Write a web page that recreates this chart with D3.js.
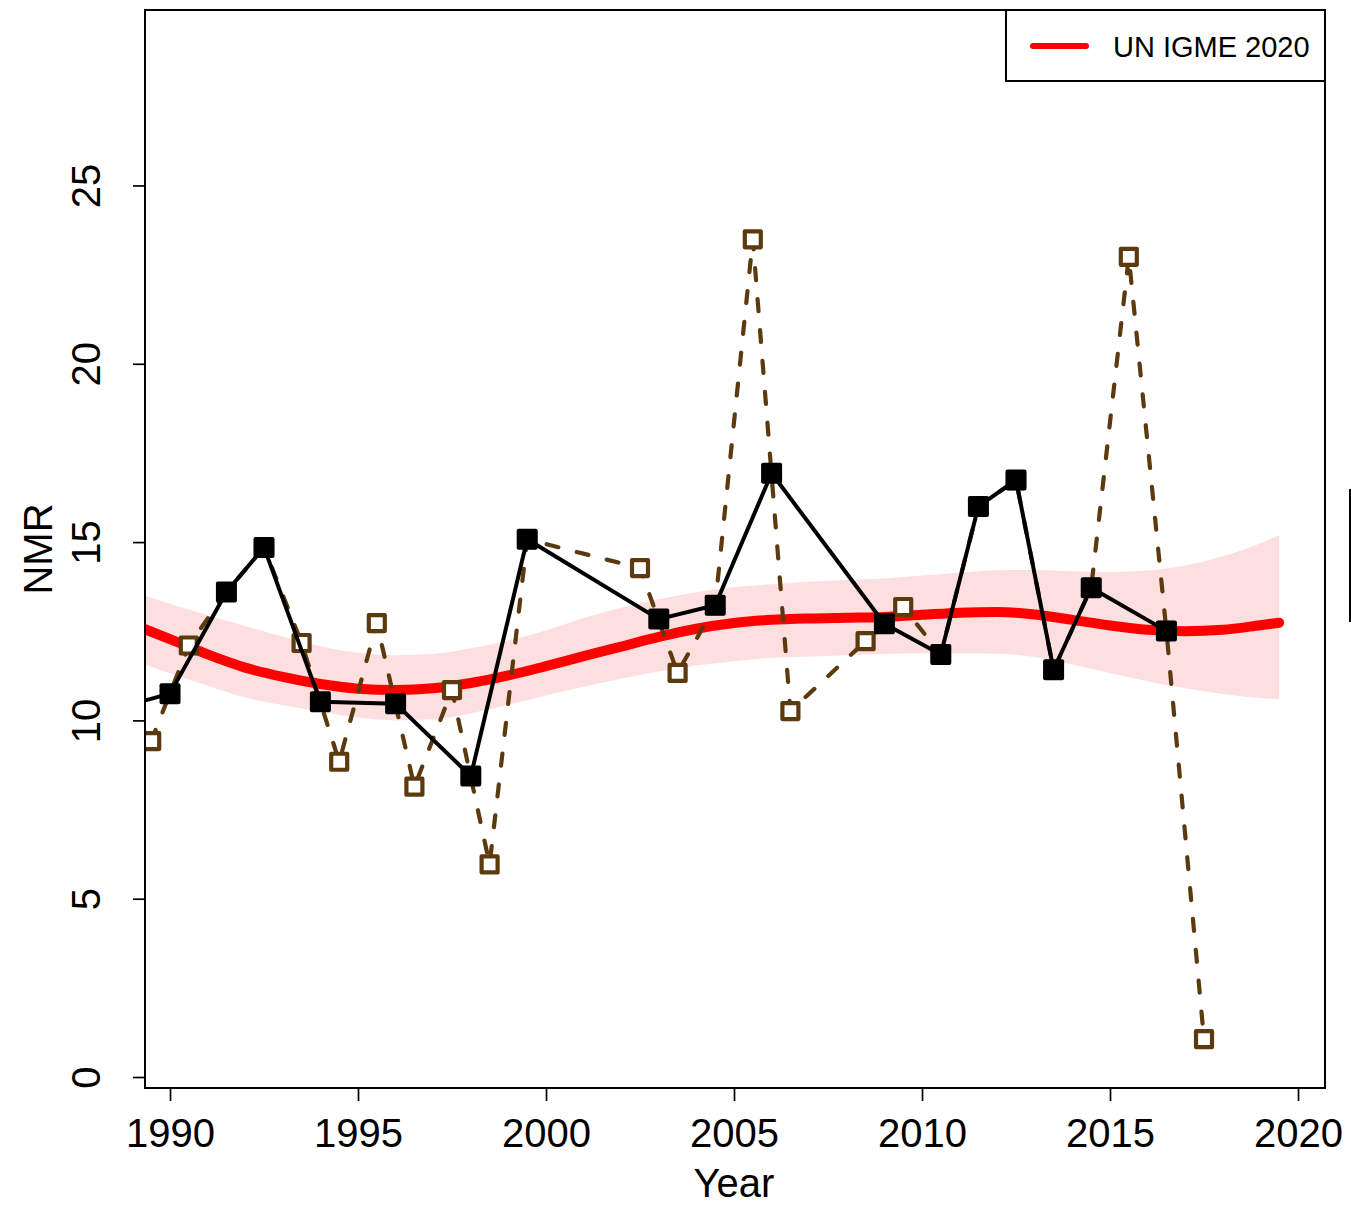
<!DOCTYPE html>
<html>
<head>
<meta charset="utf-8">
<script src="https://cdn.jsdelivr.net/npm/d3@7"></script>
<style>
  html, body { margin: 0; padding: 0; background: #fff; }
  svg { display: block; font-family: "Liberation Sans", Arial, Helvetica, sans-serif; }
</style>
</head>
<body>
<svg id="chart" width="1351" height="1205"></svg>
<script>
// ---- data ----
const trendYears = [1989.3, 1990, 1991, 1992, 1993, 1994, 1995, 1996, 1997, 1998, 1999, 2000, 2001, 2002, 2003, 2004, 2005, 2006, 2007, 2008, 2009, 2010, 2011, 2012, 2013, 2014, 2015, 2016, 2017, 2018, 2019, 2019.5];
const trendMid   = [12.57, 12.28, 11.85, 11.48, 11.22, 11.02, 10.89, 10.85, 10.90, 11.05, 11.26, 11.52, 11.80, 12.07, 12.34, 12.57, 12.73, 12.82, 12.86, 12.88, 12.90, 12.96, 13.02, 13.04, 12.97, 12.82, 12.66, 12.54, 12.50, 12.54, 12.67, 12.74];
const trendUpper = [13.51, 13.27, 12.95, 12.65, 12.35, 12.08, 11.90, 11.83, 11.86, 12.02, 12.24, 12.52, 12.87, 13.16, 13.40, 13.59, 13.73, 13.82, 13.89, 13.94, 13.98, 14.06, 14.14, 14.21, 14.22, 14.18, 14.16, 14.20, 14.34, 14.60, 14.97, 15.19];
const trendLower = [11.59, 11.32, 10.98, 10.64, 10.43, 10.24, 10.08, 10.00, 10.03, 10.20, 10.44, 10.70, 10.94, 11.17, 11.37, 11.54, 11.66, 11.76, 11.79, 11.83, 11.86, 11.88, 11.88, 11.87, 11.78, 11.57, 11.33, 11.10, 10.90, 10.74, 10.63, 10.59];

const openYears  = [1989.5, 1990.5, 1991.5, 1992.5, 1993.5, 1994.5, 1995.5, 1996.5, 1997.5, 1998.5, 1999.5, 2002.5, 2003.5, 2004.5, 2005.5, 2006.5, 2008.5, 2009.5, 2010.5, 2011.5, 2012.5, 2013.5, 2014.5, 2015.5, 2016.5, 2017.5];
const openValues = [9.42, 12.10, 13.60, 14.85, 12.17, 8.84, 12.73, 8.14, 10.85, 5.96, 15.08, 14.27, 11.33, 13.23, 23.49, 10.26, 12.22, 13.18, 11.85, 16.00, 16.74, 11.42, 13.72, 23.00, 12.51, 1.06];

const filledYears  = [1989.0, 1990.0, 1991.5, 1992.5, 1994.0, 1996.0, 1998.0, 1999.5, 2003.0, 2004.5, 2006.0, 2009.0, 2010.5, 2011.5, 2012.5, 2013.5, 2014.5, 2016.5];
const filledValues = [10.46, 10.75, 13.60, 14.85, 10.52, 10.47, 8.44, 15.08, 12.84, 13.23, 16.93, 12.71, 11.85, 16.00, 16.74, 11.42, 13.72, 12.51];

const xTicks = [1990, 1995, 2000, 2005, 2010, 2015, 2020];
const yTicks = [0, 5, 10, 15, 20, 25];
const legendLabels = ["UN IGME 2020"];

// ---- layout ----
const L = 145, R = 1325, T = 10, B = 1088;
const svg = d3.select("#chart");
const x = d3.scaleLinear().domain([1989.335, 2020.718]).range([L, R]);
const y = d3.scaleLinear().domain([-0.308, 29.92]).range([B, T]);

svg.append("defs").append("clipPath").attr("id", "plotclip")
  .append("rect").attr("x", L).attr("y", T).attr("width", R - L).attr("height", B - T);

const plot = svg.append("g").attr("clip-path", "url(#plotclip)");

const trend = trendYears.map((yr, i) => ({ yr, m: trendMid[i], u: trendUpper[i], l: trendLower[i] }));

// band
plot.append("path")
  .datum(trend)
  .attr("d", d3.area().x(d => x(d.yr)).y0(d => y(d.l)).y1(d => y(d.u)).curve(d3.curveMonotoneX))
  .attr("fill", "#fddfe0");

// red estimate
plot.append("path")
  .datum(trend)
  .attr("d", d3.line().x(d => x(d.yr)).y(d => y(d.m)).curve(d3.curveMonotoneX))
  .attr("fill", "none").attr("stroke", "#ff0000").attr("stroke-width", 10)
  .attr("stroke-linecap", "round").attr("stroke-linejoin", "round");

const brown = "#5c3a0e";
const openPts = openYears.map((yr, i) => ({ yr, v: openValues[i] }));
const filledPts = filledYears.map((yr, i) => ({ yr, v: filledValues[i] }));

// dashed series
plot.append("path")
  .datum(openPts)
  .attr("d", d3.line().x(d => x(d.yr)).y(d => y(d.v)))
  .attr("fill", "none").attr("stroke", brown).attr("stroke-width", 4.2)
  .attr("stroke-dasharray", "12,19").attr("stroke-linecap", "round");

plot.selectAll("rect.open").data(openPts).join("rect")
  .attr("class", "open")
  .attr("x", d => x(d.yr) - 8).attr("y", d => y(d.v) - 8)
  .attr("width", 16).attr("height", 16)
  .attr("fill", "#fff").attr("stroke", brown).attr("stroke-width", 4.2)
  .attr("stroke-linejoin", "round");

// solid series
plot.append("path")
  .datum(filledPts)
  .attr("d", d3.line().x(d => x(d.yr)).y(d => y(d.v)))
  .attr("fill", "none").attr("stroke", "#000").attr("stroke-width", 4)
  .attr("stroke-linejoin", "round");

plot.selectAll("rect.filled").data(filledPts).join("rect")
  .attr("class", "filled")
  .attr("x", d => x(d.yr) - 10.5).attr("y", d => y(d.v) - 10.5)
  .attr("width", 21).attr("height", 21).attr("rx", 2)
  .attr("fill", "#000");

// axes
const xAxis = svg.append("g").attr("transform", `translate(0,${B})`)
  .call(d3.axisBottom(x).tickValues(xTicks).tickFormat(d3.format("d")).tickSize(13));
xAxis.select(".domain").remove();
xAxis.selectAll("line").attr("stroke", "#000").attr("stroke-width", 1.7);
xAxis.selectAll("text").attr("dy", null).attr("y", 59)
  .attr("font-size", 40).attr("fill", "#000").attr("font-family", "Liberation Sans, Arial, sans-serif");

const yAxis = svg.append("g").attr("transform", `translate(${L},0)`)
  .call(d3.axisLeft(y).tickValues(yTicks).tickSize(12));
yAxis.select(".domain").remove();
yAxis.selectAll("line").attr("stroke", "#000").attr("stroke-width", 1.7);
yAxis.selectAll("text").attr("dy", null).attr("x", 0).attr("y", 0)
  .attr("transform", "translate(-45,0) rotate(-90)")
  .attr("text-anchor", "middle")
  .attr("font-size", 40).attr("fill", "#000").attr("font-family", "Liberation Sans, Arial, sans-serif");

// box
svg.append("rect").attr("x", L).attr("y", T).attr("width", R - L).attr("height", B - T)
  .attr("fill", "none").attr("stroke", "#000").attr("stroke-width", 2);

// axis titles
svg.append("text").attr("x", (x(1990) + x(2020)) / 2).attr("y", 1197)
  .attr("text-anchor", "middle").attr("font-size", 40).text("Year");
svg.append("text").attr("transform", "translate(52,549) rotate(-90)")
  .attr("text-anchor", "middle").attr("font-size", 40).text("NMR");

// legend
const lg = svg.append("g");
lg.append("rect").attr("x", 1006).attr("y", T).attr("width", R - 1006).attr("height", 71)
  .attr("fill", "#fff").attr("stroke", "#000").attr("stroke-width", 2);
lg.append("line").attr("x1", 1033).attr("x2", 1086).attr("y1", 46).attr("y2", 46)
  .attr("stroke", "#ff0000").attr("stroke-width", 6).attr("stroke-linecap", "round");
lg.selectAll("text.lg").data(legendLabels).join("text").attr("class", "lg")
  .attr("x", 1113).attr("y", 57).attr("font-size", 29).text(d => d);

// fragment of a cut-off element at the right edge
svg.append("line").attr("x1", 1350).attr("x2", 1350).attr("y1", 489).attr("y2", 622)
  .attr("stroke", "#000").attr("stroke-width", 2);
</script>
</body>
</html>
